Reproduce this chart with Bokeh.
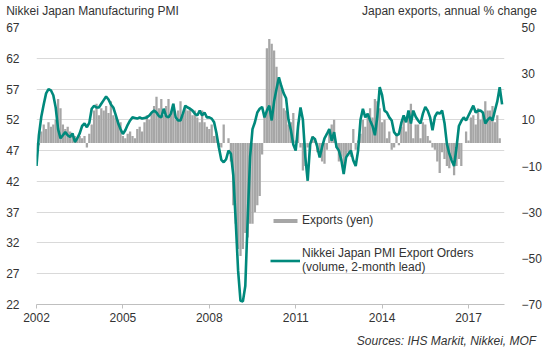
from bokeh.plotting import figure
from bokeh.models import Range1d, LinearAxis, FixedTicker, Legend, LegendItem
from bokeh.embed import file_html
from bokeh.resources import INLINE

# ---- data -------------------------------------------------------------
start_year = 2002
# Nikkei Japan PMI Export Orders (volume, 2-month lead), monthly from Jan 2002
pmi_export_orders = [
    44.5, 49.5, 52.5, 54.5, 56.3, 57.0, 56.8, 56.0, 54.0, 50.5, 49.0, 49.5,  # 2002
    50.0, 49.5, 49.2, 49.8, 48.4, 49.0, 49.8, 51.0, 51.4, 50.8, 51.5, 53.8,  # 2003
    54.3, 54.0, 54.0, 54.6, 55.2, 55.8, 55.3, 54.5, 54.0, 52.8, 51.5, 50.5,  # 2004
    49.7, 50.3, 51.2, 51.9, 52.4, 52.3, 52.2, 52.4, 52.2, 52.3, 52.4, 52.7,  # 2005
    53.2, 53.5, 53.2, 52.6, 52.4, 53.8, 52.6, 52.4, 53.0, 54.6, 52.4, 51.9,  # 2006
    51.9, 53.0, 54.3, 54.0, 53.8, 53.5, 53.0, 52.7, 53.5, 52.7, 53.2, 52.4,  # 2007
    52.4, 52.2, 51.6, 49.8, 47.5, 45.5, 45.1, 45.6, 47.0, 46.5, 43.0, 35.6,  # 2008
    27.5, 22.6, 22.5, 25.0, 36.0, 46.0, 50.5, 51.6, 53.2, 53.8, 54.1, 52.4,  # 2009
    53.5, 54.3, 51.9, 55.0, 57.0, 58.9, 57.5, 56.3, 55.5, 52.0, 50.3, 48.0,  # 2010
    47.0, 51.0, 54.0, 52.0, 46.0, 42.1, 48.0, 49.2, 48.9, 47.6, 45.9, 47.6,  # 2011
    49.0, 49.7, 50.5, 48.6, 50.0, 47.6, 47.0, 45.5, 43.2, 45.9, 46.5, 47.0,  # 2012
    45.4, 44.5, 47.0, 52.0, 53.8, 52.4, 53.0, 51.9, 51.0, 49.5, 52.5, 57.3,  # 2013
    56.0, 53.5, 53.2, 52.4, 51.9, 50.0, 49.5, 49.7, 51.5, 52.7, 51.6, 53.5,  # 2014
    51.4, 53.5, 52.5, 51.9, 51.4, 53.0, 54.1, 53.5, 52.4, 50.3, 52.5, 53.2,  # 2015
    53.0, 53.5, 51.5, 48.1, 46.5, 45.4, 44.5, 47.5, 51.0, 51.8, 52.4, 51.9,  # 2016
    52.7, 53.5, 54.3, 53.2, 53.5, 53.5, 53.2, 51.4, 52.0, 52.4, 51.9, 53.5,  # 2017
    55.0, 57.3, 54.5,                                                        # 2018
]
# Japan exports (yen), annual % change, monthly from Jan 2002
exports_yen = [
    -3, -1, 5, 8, 6, 9, 7, 8, 10, 19, 15, 8,            # 2002
    6, 7, 5, 4, 3, 2, 3, 2, 3, -2, 4, 8,                # 2003
    14, 17, 12, 15, 14, 16, 13, 18, 12, 11, 10, 9,      # 2004
    3, 2, 4, 5, 3, 2, 6, 7, 5, 9, 12, 10,               # 2005
    13, 16, 20, 15, 19, 12, 16, 19, 12, 17, 10, 14,     # 2006
    18, 12, 16, 14, 15, 12, 14, 11, 9, 14, 9, 7,        # 2007
    6, 8, 3, 4, -2, -2, 8, 0, 2, -8, -27, -35,          # 2008
    -46, -49, -46, -39, -41, -35, -35, -30, -27, -23, -5, 12,  # 2009
    41, 45, 43, 40, 33, 28, 24, 15, 14, 8, 9, 13,       # 2010
    1, 9, -2, -12, -10, -2, -3, 3, 2, -4, -5, -8,       # 2011
    -9, -3, 6, 8, 10, -2, -8, -6, -10, -6, -4, -6,      # 2012
    6, -3, 1, 4, 10, 7, 12, 15, 11, 19, 18, 15,         # 2013
    9, 10, 2, 5, -3, -2, 4, -1, 7, 10, 5, 13,           # 2014
    17, 2, 8, 8, 2, 9, 8, 3, 1, -2, -3, -8,             # 2015
    -13, -4, -7, -10, -11, -7, -14, -10, -7, -10, 0, 5, # 2016
    1, 11, 12, 8, 15, 10, 13, 18, 14, 14, 16, 9,        # 2017
    12, 2,                                              # 2018
]
x_ticks = [2002, 2005, 2008, 2011, 2014, 2017]
left_ticks = [22, 27, 32, 37, 42, 47, 52, 57, 62, 67]
right_ticks = [-70, -50, -30, -10, 10, 30, 50]

left_header = "Nikkei Japan Manufacturing PMI"
right_header = "Japan exports, annual % change"
source_note = "Sources: IHS Markit, Nikkei, MOF"

pmi_x = [start_year + i / 12 for i in range(len(pmi_export_orders))]
exp_x = [start_year + i / 12 for i in range(len(exports_yen))]

# ---- style ------------------------------------------------------------
FONT = "Liberation Sans"
TXT = "#333333"
TEAL = "#00897C"
GREY = "#A6A6A6"
GRID = "#D9D9D9"
W, H = 546, 353
FL, FR = 36, 504          # frame left/right edge in page pixels

p = figure(width=W, height=H, output_backend="svg", toolbar_location=None,
           x_range=Range1d(2002, 2018.25), y_range=Range1d(22, 67),
           min_border_left=FL, min_border_right=W - FR, min_border_top=27,
           min_border_bottom=49)
p.outline_line_color = None
p.background_fill_color = "white"
p.border_fill_color = "white"
p.extra_y_ranges = {"exp": Range1d(-70, 50)}
# a pixel scale along the frame, used to place header / source texts
p.extra_x_ranges = {"px": Range1d(FL, FR)}

bars = p.vbar(x=exp_x, top=exports_yen, bottom=0, width=1 / 12 * 0.95,
              y_range_name="exp", fill_color=GREY, line_color=None)
line = p.line(pmi_x, pmi_export_orders, line_color=TEAL, line_width=2.6)

p.xgrid.visible = False
p.ygrid.ticker = FixedTicker(ticks=left_ticks)
p.ygrid.grid_line_color = GRID


def style_labels(ax, size="12px", style="normal"):
    ax.major_label_text_font = FONT
    ax.major_label_text_font_size = size
    ax.major_label_text_font_style = style
    ax.major_label_text_color = TXT
    ax.minor_tick_line_color = None


xa = p.xaxis[0]
xa.ticker = FixedTicker(ticks=x_ticks)
xa.axis_line_color = "#BFBFBF"
xa.major_tick_line_color = "#BFBFBF"
xa.major_tick_in = 0
xa.major_tick_out = 4
xa.major_label_standoff = 4
style_labels(xa)

ya = p.yaxis[0]
ya.ticker = FixedTicker(ticks=left_ticks)
ya.axis_line_color = None
ya.major_tick_line_color = None
ya.major_label_standoff = 11
style_labels(ya)

ra = LinearAxis(y_range_name="exp", ticker=FixedTicker(ticks=right_ticks))
ra.axis_line_color = None
ra.major_tick_line_color = None
ra.major_label_standoff = 11
style_labels(ra)
p.add_layout(ra, "right")

# header row (left and right headers) as a tick-label row above the frame
head = LinearAxis(x_range_name="px", ticker=FixedTicker(ticks=[92, 449]),
                  major_label_overrides={92: left_header, 449: right_header})
head.axis_line_color = None
head.major_tick_line_color = None
head.major_tick_in = 0
head.major_tick_out = 0
head.major_label_standoff = 10
style_labels(head)
p.add_layout(head, "above")

# source note as a second tick-label row below the year axis
src = LinearAxis(x_range_name="px", ticker=FixedTicker(ticks=[446]),
                 major_label_overrides={446: source_note})
src.axis_line_color = None
src.major_tick_line_color = None
src.major_tick_in = 0
src.major_tick_out = 0
src.major_label_standoff = 9
style_labels(src, style="italic")
p.add_layout(src, "below")

legend = Legend(items=[
    LegendItem(label="Exports (yen)", renderers=[bars]),
    LegendItem(label="Nikkei Japan PMI Export Orders\n(volume, 2-month lead)",
               renderers=[line]),
], location=(234, 30))
legend.background_fill_alpha = 0
legend.border_line_color = None
legend.padding = 0
legend.margin = 0
legend.spacing = 19
legend.glyph_width = 30
legend.glyph_height = 5
legend.label_height = 14
legend.label_standoff = 2
legend.label_text_font = FONT
legend.label_text_font_size = "12px"
legend.label_text_color = TXT
p.add_layout(legend)

open("out.html", "w").write(file_html(p, INLINE))
